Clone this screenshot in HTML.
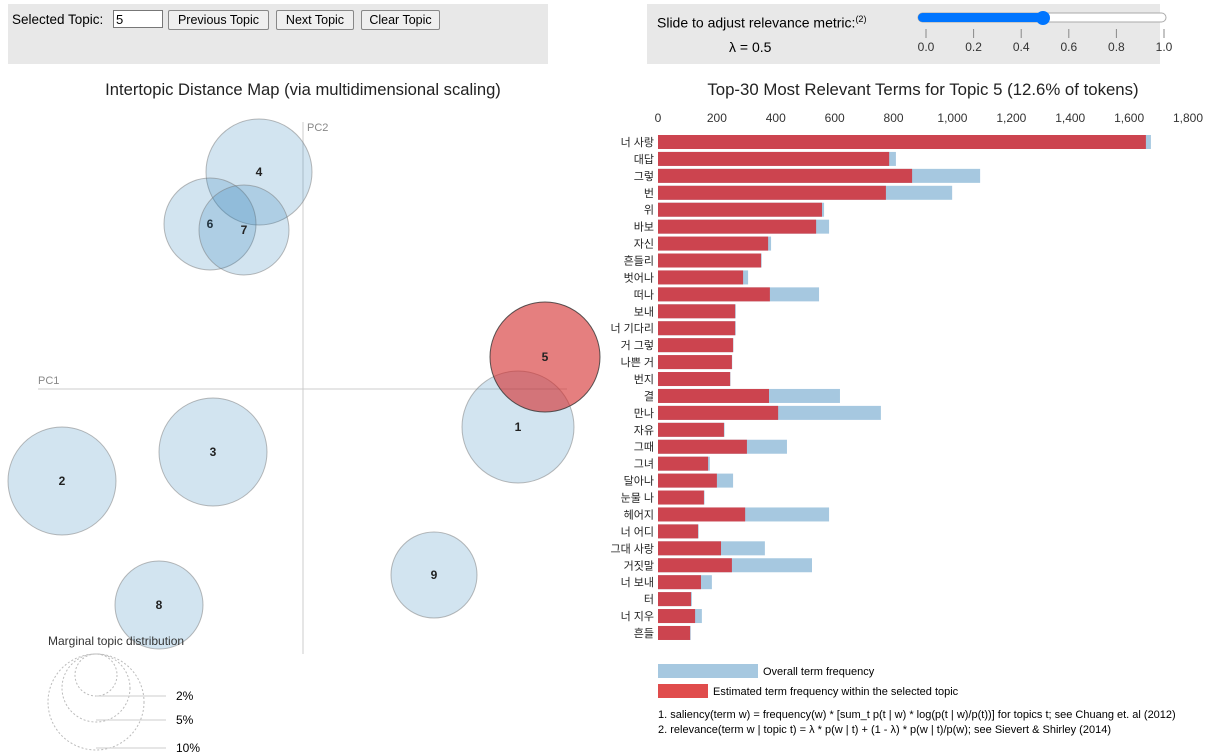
<!DOCTYPE html>
<html><head><meta charset="utf-8">
<style>
body{margin:0;width:1220px;height:756px;background:#fff;font-family:"Liberation Sans","Noto Sans CJK KR",sans-serif;overflow:hidden;position:relative}
.panel{position:absolute;background:#e8e8e8}
button{font-family:"Liberation Sans",sans-serif;font-size:12.5px;padding:0;height:20px;border:1px solid #888;border-radius:2px;background:#efefef;position:absolute;top:6px}
</style></head><body>
<div class="panel" style="left:8px;top:4px;width:540px;height:60px">
 <span style="position:absolute;left:4px;top:8px;font-size:13.5px">Selected Topic:</span>
 <input value="5" style="position:absolute;left:105px;top:6px;width:44px;height:16px;font-size:13px;padding:0 2px;border:1px solid #777">
 <button style="left:160px;width:101px">Previous Topic</button>
 <button style="left:268px;width:78px">Next Topic</button>
 <button style="left:353px;width:79px">Clear Topic</button>
</div>
<div class="panel" style="left:647px;top:4px;width:513px;height:60px">
 <span style="position:absolute;left:10px;top:10px;font-size:14px">Slide to adjust relevance metric:<sup style="font-size:9px">(2)</sup></span>
 <span style="position:absolute;left:82px;top:35px;font-size:14px">λ = 0.5</span>
</div>
<svg width="1220" height="756" style="position:absolute;left:0;top:0" id="svg" font-family="Liberation Sans, Noto Sans CJK KR, sans-serif">
 <g>
  <rect x="918" y="13" width="248" height="9" rx="4.5" fill="#fff" stroke="#aaa"/>
  <rect x="918" y="13" width="125" height="9" rx="4.5" fill="#0075ff"/>
  <circle cx="1043" cy="18" r="7" fill="#0075ff"/>
 </g>
 <g id="slticks" font-size="12" fill="#333"></g>
 <text x="303" y="95" font-size="16.6" text-anchor="middle" fill="#222">Intertopic Distance Map (via multidimensional scaling)</text>
 <text x="923" y="95" font-size="16.8" text-anchor="middle" fill="#222">Top-30 Most Relevant Terms for Topic 5 (12.6% of tokens)</text>
 <line x1="38" y1="389" x2="567" y2="389" stroke="#ccc"/>
 <line x1="303" y1="122" x2="303" y2="654" stroke="#ccc"/>
 <text x="38" y="384" font-size="11" fill="#888">PC1</text>
 <text x="307" y="131" font-size="11" fill="#888">PC2</text>
 <g id="topics"></g>
 <g>
  <text x="48" y="645" font-size="12" fill="#333">Marginal topic distribution</text>
  <circle cx="96" cy="675" r="21" fill="none" stroke="#bbb" stroke-dasharray="2,2"/>
  <circle cx="96" cy="688" r="34" fill="none" stroke="#bbb" stroke-dasharray="2,2"/>
  <circle cx="96" cy="702" r="48" fill="none" stroke="#bbb" stroke-dasharray="2,2"/>
  <line x1="96" y1="696" x2="166" y2="696" stroke="#ccc"/><text x="176" y="697" font-size="12" dominant-baseline="middle">2%</text>
  <line x1="96" y1="720" x2="166" y2="720" stroke="#ccc"/><text x="176" y="721" font-size="12" dominant-baseline="middle">5%</text>
  <line x1="96" y1="748" x2="166" y2="748" stroke="#ccc"/><text x="176" y="749" font-size="12" dominant-baseline="middle">10%</text>
 </g>
 <g id="bars"></g>
 <g>
  <rect x="658" y="664" width="100" height="14" fill="#a6c8e0"/>
  <text x="763" y="675" font-size="11">Overall term frequency</text>
  <rect x="658" y="684" width="50" height="14" fill="#e04c4c"/>
  <text x="713" y="695" font-size="11">Estimated term frequency within the selected topic</text>
  <text x="658" y="718" font-size="11">1. saliency(term w) = frequency(w) * [sum_t p(t | w) * log(p(t | w)/p(t))] for topics t; see Chuang et. al (2012)</text>
  <text x="658" y="733" font-size="11">2. relevance(term w | topic t) = λ * p(w | t) + (1 - λ) * p(w | t)/p(w); see Sievert &amp; Shirley (2014)</text>
 </g>
</svg>
<script>
const topicIds=[1,2,3,4,5,6,7,8,9];
const topicX=[518,62,213,259,545,210,244,159,434];
const topicY=[427,481,452,172,357,224,230,605,575];
const topicR=[56,54,54,53,55,46,45,44,43];
const terms=["너 사랑","대답","그렇","번","위","바보","자신","흔들리","벗어나","떠나","보내","너 기다리","거 그렇","나쁜 거","번지","결","만나","자유","그때","그녀","달아나","눈물 나","헤어지","너 어디","그대 사랑","거짓말","너 보내","터","너 지우","흔들"];
const topicFreq=[1657,785,863,774,557,537,374,350,289,380,262,262,255,251,245,377,408,224,302,170,200,156,296,136,214,251,146,112,126,109];
const totalFreq=[1674,808,1094,999,564,581,384,352,306,547,264,264,256,252,246,618,757,226,438,176,255,158,581,138,363,523,183,115,149,111];
const xTicks=[0,200,400,600,800,1000,1200,1400,1600,1800];
const sliderTicks=["0.0","0.2","0.4","0.6","0.8","1.0"];
const NS="http://www.w3.org/2000/svg";
function mk(t,a,p){const e=document.createElementNS(NS,t);for(const k in a)e.setAttribute(k,a[k]);p.appendChild(e);return e;}
const sl=document.getElementById('slticks');
sliderTicks.forEach((t,i)=>{const x=926+i*47.6;
 mk('line',{x1:x,y1:29,x2:x,y2:38,stroke:'#888'},sl);
 const tx=mk('text',{x:x,y:51,'text-anchor':'middle'},sl);tx.textContent=t;
 
 });
const tg=document.getElementById('topics');
topicIds.forEach((id,i)=>{const sel=id===5;
 const c=mk('circle',{cx:topicX[i],cy:topicY[i],r:topicR[i],fill:sel?'#d42a2a':'#1f77b4','fill-opacity':sel?0.6:0.2,stroke:sel?'#333':'#777','stroke-opacity':sel?0.8:0.5},tg);
 
 
 const t=mk('text',{x:topicX[i],y:topicY[i]+4,'text-anchor':'middle','font-size':12,'font-weight':'bold',fill:'#222'},tg);t.textContent=id;
 
 });
const bg=document.getElementById('bars');
const x0=658,sc=530/1800,y0=135,step=16.93,bh=14;
const xs=v=>x0+v*sc;
xTicks.forEach(v=>{const t=mk('text',{x:xs(v),y:122,'text-anchor':'middle','font-size':12,fill:'#333'},bg);t.textContent=v.toLocaleString('en-US');
 
 });
terms.forEach((term,i)=>{const y=y0+i*step;
 const b=mk('rect',{x:x0,y:y,width:xs(totalFreq[i])-x0,height:bh,fill:'#a6c8e0'},bg);
 
 
 const r=mk('rect',{x:x0,y:y,width:xs(topicFreq[i])-x0,height:bh,fill:'#cc444f'},bg);
 
 
 const t=mk('text',{x:654,y:y+11,'text-anchor':'end','font-size':11,fill:'#222'},bg);t.textContent=term;
 
 });
</script>
</body></html>
